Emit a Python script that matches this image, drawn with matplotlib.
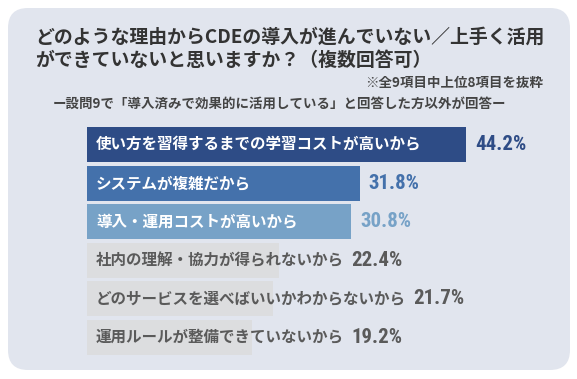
import matplotlib.pyplot as plt
from matplotlib.patches import FancyBboxPatch

plt.rcParams['font.family'] = ['Noto Sans CJK JP', 'DejaVu Sans']

# data
labels = ['使い方を習得するまでの学習コストが高いから', 'システムが複雑だから', '導入・運用コストが高いから',
          '社内の理解・協力が得られないから', 'どのサービスを選べばいいかわからないから', '運用ルールが整備できていないから']
values = [44.2, 31.8, 30.8, 22.4, 21.7, 19.2]
bar_colors = ['#2e4c86', '#4471ab', '#77a2c7', '#dcdddf', '#dcdddf', '#dcdddf']
text_colors = ['white', 'white', 'white', '#5a5a5a', '#5a5a5a', '#5a5a5a']
value_colors = ['#2e4c86', '#4471ab', '#77a2c7', '#5a5a5a', '#5a5a5a', '#5a5a5a']

title = 'どのような理由からCDEの導入が進んでいない／上手く活用\nができていないと思いますか？（複数回答可）'
note = '※全9項目中上位8項目を抜粋'
subtitle = 'ー設問9で「導入済みで効果的に活用している」と回答した方以外が回答ー'

W, H = 577, 379
fig = plt.figure(figsize=(W / 100, H / 100), dpi=100)
fig.patch.set_facecolor('white')

# background panel in pixel coords
bg = fig.add_axes([0, 0, 1, 1])
bg.set_xlim(0, W)
bg.set_ylim(H, 0)
bg.axis('off')
bg.add_patch(FancyBboxPatch((8, 8), 562, 362, boxstyle='round,pad=0,rounding_size=20',
                            fc='#e1e5ee', ec='none'))

bg.text(35, 28, title, ha='left', va='top', fontsize=13.6, fontweight='bold',
        color='#333333', linespacing=1.25)
bg.text(543, 83, note, ha='right', va='center', fontsize=9.7, fontweight='bold', color='#444444')
bg.text(280, 104, subtitle, ha='center', va='center', fontsize=9.7, fontweight='bold', color='#444444')

# bar axes: x from 87px, 8.575 px per percent
x0, ppp = 87, 8.575
top, pitch = 125.5, 38.5
ax = fig.add_axes([x0 / W, 1 - (top + 6 * pitch) / H, 50 * ppp / W, 6 * pitch / H])
ax.set_xlim(0, 50)
ax.set_ylim(5.5, -0.5)
ax.axis('off')

ypos = list(range(len(values)))
ax.barh(ypos, values, height=0.91, color=bar_colors)

num_font = ['Roboto Condensed', 'Roboto']
for i, (lab, v) in enumerate(zip(labels, values)):
    t = ax.annotate(lab, xy=(0, i), xytext=(9, 0), textcoords='offset pixels',
                    ha='left', va='center', fontsize=11.2, fontweight='bold', color=text_colors[i])
    if i < 3:
        ax.annotate(f'{v}%', xy=(v, i), xytext=(9, 0), textcoords='offset pixels',
                    ha='left', va='center', fontsize=15, fontweight='bold',
                    color=value_colors[i], family=num_font)
    else:
        ax.annotate(f'{v}%', xy=(1, 0.5), xycoords=t, xytext=(7, 0), textcoords='offset pixels',
                    ha='left', va='center', fontsize=15, fontweight='bold',
                    color=value_colors[i], family=num_font)

fig.savefig('out.png', dpi=100)
